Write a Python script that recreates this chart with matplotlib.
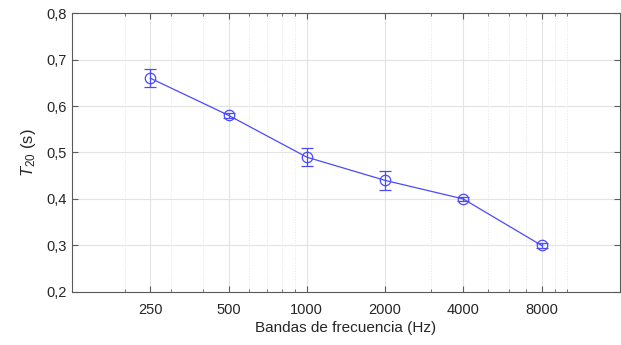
import numpy as np
import matplotlib
matplotlib.use('Agg')
import matplotlib.pyplot as plt
from matplotlib import ticker

plt.rcParams['font.family'] = ['Liberation Sans', 'DejaVu Sans']
plt.rcParams['mathtext.fontset'] = 'custom'
plt.rcParams['mathtext.rm'] = 'Liberation Sans'
plt.rcParams['mathtext.it'] = 'Liberation Sans:italic'

# datos
bandas = [250, 500, 1000, 2000, 4000, 8000]
etiquetas = ['250', '500', '1000', '2000', '4000', '8000']
t20 = [0.66, 0.58, 0.49, 0.44, 0.40, 0.30]
error = [0.02, 0.005, 0.02, 0.02, 0.005, 0.005]

azul = '#4a4aff'
gris_txt = '#262626'
gris_eje = '#5a5a5a'

fig = plt.figure(figsize=(6.21, 3.45), dpi=100)
ax = fig.add_axes([0.116, 0.154, 0.882, 0.808])

ax.errorbar(bandas, t20, yerr=error, color=azul, lw=0.9, marker='o',
            mfc='none', mec=azul, ms=7.5, mew=0.9, capsize=4, capthick=0.9,
            elinewidth=0.9, zorder=3)

ax.set_xscale('log')
ax.set_xlim(125, 16000)
ax.set_ylim(0.2, 0.8)

ax.xaxis.set_major_locator(ticker.FixedLocator(bandas))
ax.xaxis.set_major_formatter(ticker.FixedFormatter(etiquetas))
# ticks menores estilo MATLAB (200..900, 1000..10000)
ax.xaxis.set_minor_locator(ticker.LogLocator(base=10, subs=np.arange(1, 10), numticks=20))
ax.xaxis.set_minor_formatter(ticker.NullFormatter())
ax.yaxis.set_major_locator(ticker.MultipleLocator(0.1))
ax.yaxis.set_major_formatter(ticker.FuncFormatter(lambda v, p: f'{v:.1f}'.replace('.', ',')))

ax.grid(True, which='major', color='#e3e3e3', lw=0.8, ls='-', zorder=0)
ax.grid(True, which='minor', axis='x', color='#e6e6e6', lw=0.7, ls=':', zorder=0)

ax.tick_params(which='both', direction='in', top=True, right=True,
               colors=gris_eje, labelcolor=gris_txt, labelsize=10.5)
ax.tick_params(which='major', length=4.5, width=0.8)
ax.tick_params(which='minor', length=2.5, width=0.6)
ax.tick_params(axis='x', pad=8)
ax.tick_params(axis='y', pad=4)

for s in ax.spines.values():
    s.set_color(gris_eje)
    s.set_linewidth(0.8)

ax.set_xlabel('Bandas de frecuencia (Hz)', fontsize=11, color=gris_txt, labelpad=3)
ax.set_ylabel('$T_{20}$ (s)', fontsize=12, color=gris_txt, labelpad=6)

plt.savefig('out.png', dpi=100)
